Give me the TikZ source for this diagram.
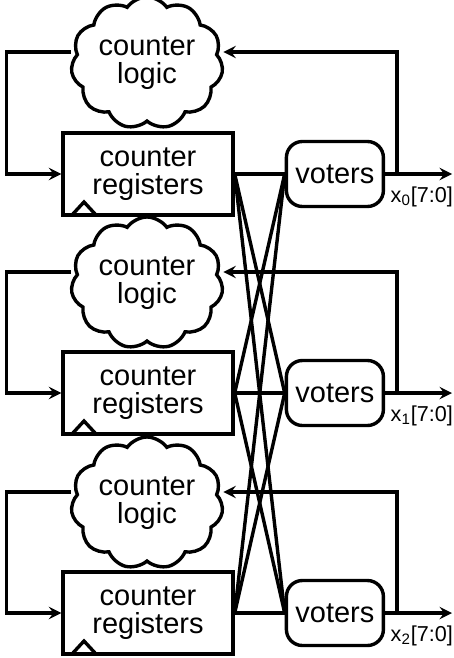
\documentclass[tikz,border=0pt]{standalone}
\usepackage{fontspec}
\setmainfont{Liberation Sans}
\usetikzlibrary{shapes.symbols,arrows,positioning}

\begin{document}
\begin{tikzpicture}[
x=0.5pt,y=-0.5pt,
line width=1.7pt,
logic/.style={
  draw,
  cloud,
  cloud puffs=11,
  cloud puff arc=110,
  cloud ignores aspect,
  minimum width=76pt,
  minimum height=66pt,
  inner sep=0pt,
  align=center,
  font=\fontsize{14.5}{14}\selectfont
},
regs/.style={
  draw,
  rectangle,
  minimum width=85pt,
  minimum height=41pt,
  align=center,
  font=\fontsize{14.5}{14}\selectfont,
  path picture={
    \draw ([xshift=4.5pt]path picture bounding box.south west)
      -- ++(6pt,6.5pt) -- ++(6pt,-6.5pt);
  }
},
vote/.style={
  draw,
  rounded corners=8pt,
  minimum width=48.5pt,
  minimum height=32.5pt,
  font=\fontsize{14.5}{14}\selectfont
},
bus/.style={
  font=\fontsize{10.8}{12}\selectfont,
  inner sep=0pt,
  anchor=west
}
]
\useasboundingbox (0,0) rectangle (454,658);

\node[regs] at (148,174)
  (reg0) {counter\\registers};
\node[regs] at (148,393)
  (reg1) {counter\\registers};
\node[regs] at (148,613)
  (reg2) {counter\\registers};

\node[logic] at (147,63)
  (cl0) {counter\\logic};
\node[logic] at (147,283)
  (cl1) {counter\\logic};
\node[logic] at (147,503)
  (cl2) {counter\\logic};

\node[vote,right=25pt of reg0]
  (vot0) {voters};
\node[vote,right=25pt of reg1]
  (vot1) {voters};
\node[vote,right=25pt of reg2]
  (vot2) {voters};

\coordinate (out0) at (452,174);
\coordinate (out1) at (452,393);
\coordinate (out2) at (452,613);
\coordinate (tap0) at (397,174);
\coordinate (tap1) at (397,393);
\coordinate (tap2) at (397,613);

\node[bus] at (389,197) (x0) {x\textsubscript{0}[7:0]};
\node[bus] at (389,416) (x1) {x\textsubscript{1}[7:0]};
\node[bus] at (389,636) (x2) {x\textsubscript{2}[7:0]};

\draw (reg0.east) -- (vot0.west);
\draw (reg0.east) -- (vot1.west);
\draw (reg0.east) -- (vot2.west);
\draw (reg1.east) -- (vot0.west);
\draw (reg1.east) -- (vot1.west);
\draw (reg1.east) -- (vot2.west);
\draw (reg2.east) -- (vot0.west);
\draw (reg2.east) -- (vot1.west);
\draw (reg2.east) -- (vot2.west);

\draw[-stealth] (vot0.east) -- (out0);
\draw[-stealth] (vot1.east) -- (out1);
\draw[-stealth] (vot2.east) -- (out2);

\draw[-stealth] (tap0) |- ([yshift=5.5pt]cl0.east);
\draw[-stealth] (tap1) |- ([yshift=5.5pt]cl1.east);
\draw[-stealth] (tap2) |- ([yshift=5.5pt]cl2.east);

\draw[-stealth] ([yshift=5.5pt]cl0.west) -- ++(-32pt,0) |- (reg0.west);
\draw[-stealth] ([yshift=5.5pt]cl1.west) -- ++(-32pt,0) |- (reg1.west);
\draw[-stealth] ([yshift=5.5pt]cl2.west) -- ++(-32pt,0) |- (reg2.west);
\end{tikzpicture}
\end{document}
